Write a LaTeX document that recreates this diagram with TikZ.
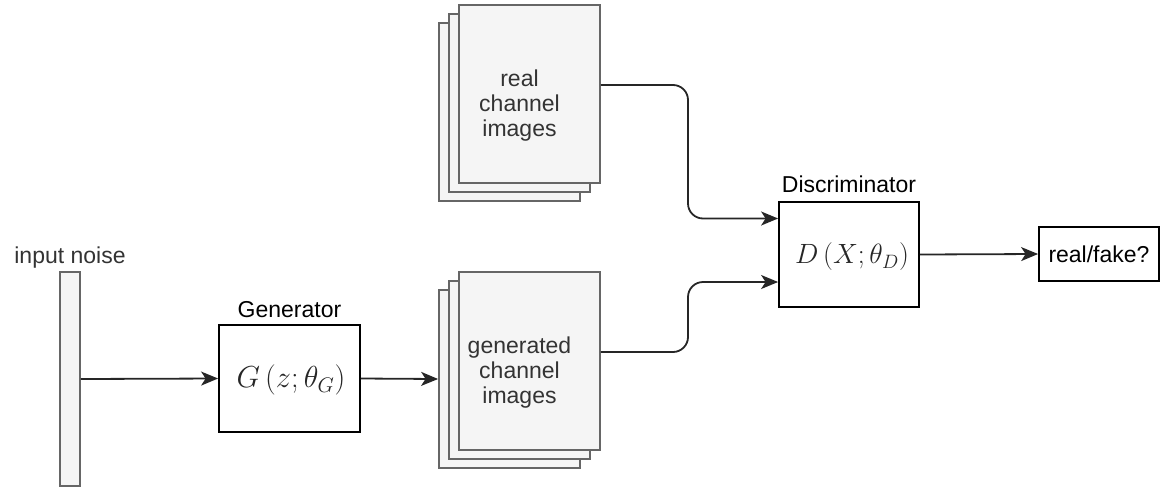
\documentclass[tikz,border=0pt]{standalone}
\usepackage{fontspec}
\setmainfont{Liberation Sans}
\usetikzlibrary{arrows.meta}
\definecolor{pagefill}{HTML}{F5F5F5}
\definecolor{pageline}{HTML}{666666}
\definecolor{pagetext}{HTML}{333333}
\tikzset{
  page/.style={draw=pageline, fill=pagefill, line width=1.8pt, inner sep=0pt},
  blockbox/.style={draw=black, fill=white, line width=1.8pt, inner sep=0pt},
  conn/.style={draw=black!85, line width=1.8pt, rounded corners=15pt, -{Stealth[length=17pt,width=14pt,inset=4.5pt]}},
  lbl/.style={font=\fontsize{23}{25}\selectfont, anchor=base, inner sep=0pt},
  stacktext/.style={font=\fontsize{23}{25}\selectfont, text=pagetext, align=center, inner sep=0pt},
  mathtext/.style={font=\fontsize{24}{26}\selectfont, text=black!85, inner sep=0pt}
}
\begin{document}
\begin{tikzpicture}[x=1pt,y=-1pt]
\useasboundingbox (0,0) rectangle (1161,488);
% input noise
\node[page, minimum width=20pt, minimum height=214pt] (noise) at (70,379) {};
\node[lbl, text=pagetext] (noiselbl) at (70,263) {input noise};
% generator
\node[blockbox, minimum width=141pt, minimum height=107pt] (gen) at (289.5,378.5) {};
\node[mathtext] (genmath) at (291,380) {\scalebox{1.22}{$G\,(z;\theta_G)$}};
\node[lbl] (genlbl) at (289.5,317) {Generator};
% real stack
\node[page, minimum width=141pt, minimum height=178pt] (rb) at (509.5,112) {};
\node[page, minimum width=141pt, minimum height=178pt] (rm) at (519.5,103) {};
\node[page, minimum width=141pt, minimum height=178pt] (rf) at (529.5,94) {};
\node[stacktext] (rtext) at (519.5,106) {real\\channel\\images};
% generated stack
\node[page, minimum width=141pt, minimum height=178pt] (gb) at (509.5,379) {};
\node[page, minimum width=141pt, minimum height=178pt] (gm) at (519.5,370) {};
\node[page, minimum width=141pt, minimum height=178pt] (gf) at (529.5,361) {};
\node[stacktext] (gtext) at (519.5,373) {generated\\channel\\images};
% discriminator
\node[blockbox, minimum width=140pt, minimum height=105pt] (disc) at (849,254.5) {};
\node[mathtext] (discmath) at (852,257) {\scalebox{1.12}{$D\,(X;\theta_D)$}};
\node[lbl] (disclbl) at (849,192) {Discriminator};
% output
\node[blockbox, minimum width=120pt, minimum height=54pt, font=\fontsize{23}{25}\selectfont] (out) at (1099,254) {real/fake?};
% connectors
\draw[conn] (noise.east) -- (gen.west);
\draw[conn] (gen.east) -- (gb.west);
\draw[conn] ([yshift=9pt]rf.east) -- (688,85) -- (688,218.5) -- ([yshift=36pt]disc.west);
\draw[conn] ([yshift=9pt]gf.east) -- (688,352) -- (688,282) -- ([yshift=-27.5pt]disc.west);
\draw[conn] (disc.east) -- (out.west);
\end{tikzpicture}
\end{document}
